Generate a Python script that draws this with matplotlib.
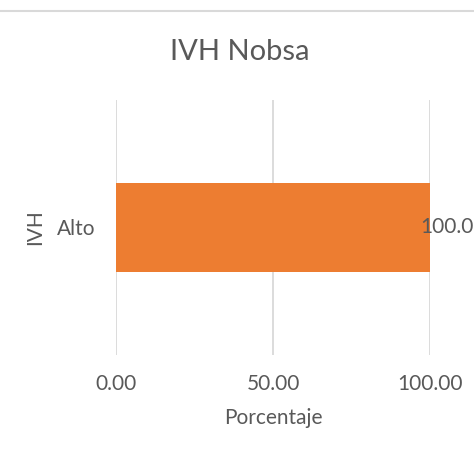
import matplotlib.pyplot as plt
from matplotlib.lines import Line2D

categories = ['Alto']
values = [100.0]
xticks = [0, 50, 100]

plt.rcParams['font.family'] = ['Lato', 'DejaVu Sans']
text_color = '#595959'

fig = plt.figure(figsize=(4.74, 4.54), dpi=100)
ax = fig.add_axes([116 / 474, 1 - 355 / 454, (430 - 116) / 474, (355 - 100) / 454])

ax.barh(categories, values, height=0.35, color='#ED7D31', zorder=3)
for cat, v in zip(categories, values):
    ax.annotate(f'{v:.2f}', xy=(v, cat), xytext=(-7, 0), textcoords='offset points',
                ha='left', va='center', fontsize=15, color=text_color, annotation_clip=False)

ax.set_xlim(0, 100)
ax.set_ylim(-0.5, 0.5)
ax.set_xticks(xticks)
ax.set_xticklabels([f'{t:.2f}' for t in xticks], fontsize=15, color=text_color)
ax.tick_params(axis='x', length=0, pad=14)
ax.tick_params(axis='y', length=0, pad=15, labelsize=15, labelcolor=text_color)
ax.grid(axis='x', color='#d9d9d9', linewidth=1.3, zorder=0)
for s in ax.spines.values():
    s.set_visible(False)

ax.set_xlabel('Porcentaje', fontsize=15, color=text_color, labelpad=10)
ax.set_ylabel('IVH', fontsize=15, color=text_color)
ax.yaxis.set_label_coords(-0.226, 0.5)
fig.text(240 / 474, 1 - 52 / 454, 'IVH Nobsa', ha='center', va='center', fontsize=21, color=text_color)

fig.add_artist(Line2D([0, 1], [1 - 11 / 454, 1 - 11 / 454], color='#d9d9d9', linewidth=1.5))

fig.savefig('out.png', dpi=100)
